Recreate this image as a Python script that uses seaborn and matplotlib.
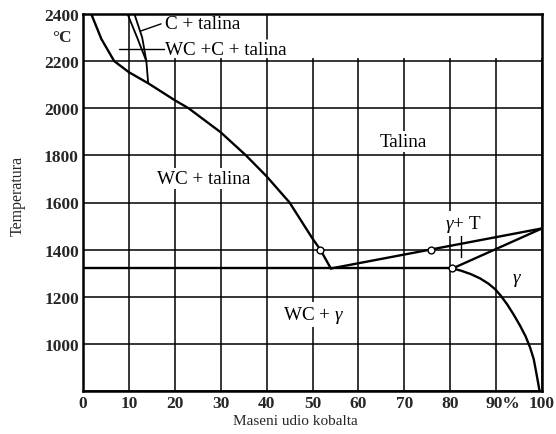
import matplotlib
matplotlib.use('Agg')
import matplotlib.pyplot as plt
import matplotlib.transforms as mtransforms
import seaborn as sns

# likvidus na strani WC (maseni udio Co u %, temperatura u °C)
wc_liq_x = [1.8, 4.0, 6.8, 10.0, 14.2, 20, 23, 30, 35.5, 40, 45, 50, 51.7, 54]
wc_liq_t = [2400, 2294, 2200, 2153, 2106, 2034, 2000, 1898, 1800, 1711, 1600, 1447, 1400, 1320]

# granice podrucja C + talina
c_lijevo_x = [9.7, 11.8, 13.8, 14.2]
c_lijevo_t = [2400, 2300, 2200, 2106]
c_desno_x = [11.2, 12.9, 13.8]
c_desno_t = [2400, 2300, 2200]

# likvidus i solidus na strani kobalta
co_liq_x = [54, 100]
co_liq_t = [1320, 1490]
solidus_x = [80.5, 100]
solidus_t = [1320, 1490]

# eutekticka linija
eut_x = [0, 80.5]
eut_t = [1320, 1320]

# solvus gama faze
solvus_x = [80.5, 82.3, 84.5, 86.5, 88.3, 89.8, 91.0, 92.4, 93.8, 95.2, 96.4, 97.4, 98.2, 98.75, 99.2, 99.55]
solvus_t = [1320, 1311, 1296, 1278, 1256, 1232, 1205, 1168, 1125, 1078, 1033, 985, 935, 878, 830, 790]

# oznacene tocke
tocke_x = [51.7, 75.9, 80.5]
tocke_t = [1400, 1400, 1320]

x_ticks = [0, 10, 20, 30, 40, 50, 60, 70, 80, 90, 100]
x_labels = ['0', '10', '20', '30', '40', '50', '60', '70', '80', '90%', '100']
y_ticks = [800, 1000, 1200, 1400, 1600, 1800, 2000, 2200, 2400]
y_labels = ['', '1000', '1200', '1400', '1600', '1800', '2000', '2200', '2400']


def crtaj():
    sns.set_style('white')
    plt.rcParams['font.family'] = ['Liberation Serif', 'DejaVu Serif']
    plt.rcParams['mathtext.fontset'] = 'custom'
    plt.rcParams['mathtext.rm'] = 'Liberation Serif'
    plt.rcParams['mathtext.it'] = 'Liberation Serif:italic'

    fig = plt.figure(figsize=(5.56, 4.35), dpi=100)
    ax = fig.add_axes([83 / 556, 1 - 392 / 435, 459 / 556, 377 / 435])

    lw = 1.7
    sns.lineplot(x=wc_liq_x, y=wc_liq_t, sort=False, estimator=None, color='black', lw=lw, ax=ax)
    sns.lineplot(x=c_lijevo_x, y=c_lijevo_t, sort=False, estimator=None, color='black', lw=1.3, ax=ax)
    sns.lineplot(x=c_desno_x, y=c_desno_t, sort=False, estimator=None, color='black', lw=1.3, ax=ax)
    sns.lineplot(x=co_liq_x, y=co_liq_t, sort=False, estimator=None, color='black', lw=lw, ax=ax)
    sns.lineplot(x=solidus_x, y=solidus_t, sort=False, estimator=None, color='black', lw=lw, ax=ax)
    sns.lineplot(x=eut_x, y=eut_t, sort=False, estimator=None, color='black', lw=lw, ax=ax)
    sns.lineplot(x=solvus_x, y=solvus_t, sort=False, estimator=None, color='black', lw=lw, ax=ax)
    sns.scatterplot(x=tocke_x, y=tocke_t, s=24, color='white', edgecolor='black', linewidth=1.0, zorder=5, ax=ax)

    # gornji pojas bez mreze (samo natpisi)
    ax.add_patch(plt.Rectangle((15.5, 2212), 84.5, 188, facecolor='white', edgecolor='none', zorder=1))
    ax.plot([40, 40], [2294, 2400], color='black', lw=1.1, zorder=1.5)

    # pokazivaci za natpise
    ax.plot([12.6, 17.0], [2328, 2358], color='black', lw=1.0)
    ax.plot([7.8, 17.6], [2251, 2251], color='black', lw=1.0)
    ax.plot([82.4, 82.4], [1368, 1466], color='black', lw=1.0)

    ax.set_xlim(0, 100)
    ax.set_ylim(800, 2400)
    ax.set_xticks(x_ticks)
    ax.set_xticklabels(x_labels, fontsize=12.5, fontweight='bold')
    ax.set_yticks(y_ticks)
    ax.set_yticklabels(y_labels, fontsize=12.5, fontweight='bold')
    ax.tick_params(length=0, pad=3)
    lbl = ax.get_xticklabels()[9]
    lbl.set_transform(lbl.get_transform() + mtransforms.ScaledTranslation(7 / 100, 0, fig.dpi_scale_trans))

    ax.grid(True, color='black', lw=1.1)
    ax.set_axisbelow(True)
    for s in ax.spines.values():
        s.set_linewidth(1.8)
        s.set_color('black')

    ax.set_xlabel('Maseni udio kobalta', fontsize=11)
    ax.xaxis.set_label_coords(0.462, -0.062)
    ax.set_ylabel('Temperatura', fontsize=11.5)
    ax.yaxis.set_label_coords(-0.125, 0.52)
    ax.text(-0.045, 2302, '°C', transform=ax.get_yaxis_transform(), ha='center', va='center',
            fontsize=12.5, fontweight='bold')

    tekst = dict(fontsize=13.8, color='black', va='center', zorder=3)
    okvir = dict(facecolor='white', edgecolor='none', pad=1.2)
    ax.text(17.8, 2360, 'C + talina', ha='left', **tekst)
    ax.text(17.8, 2251, 'WC +C + talina', ha='left', **tekst)
    ax.text(69.9, 1858, 'Talina', ha='center', bbox=okvir, **tekst)
    ax.text(26.2, 1702, 'WC + talina', ha='center', bbox=okvir, **tekst)
    ax.text(50.3, 1125, r'WC + $\gamma$', ha='center', bbox=okvir, **tekst)
    ax.text(82.8, 1511, r'$\gamma$+ T', ha='center', bbox=okvir, **tekst)
    ax.text(94.5, 1272, r'$\gamma$', ha='center', **tekst)

    fig.savefig('out.png', dpi=100)


if __name__ == '__main__':
    crtaj()
